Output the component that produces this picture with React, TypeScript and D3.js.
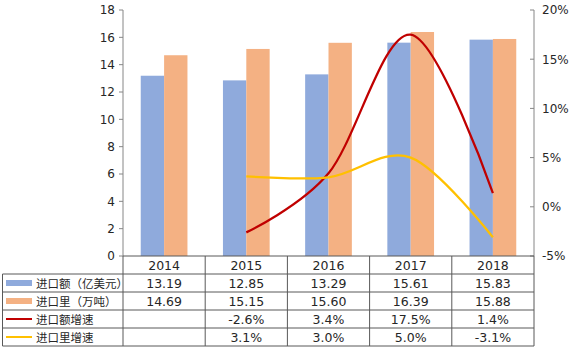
import React, { useEffect, useRef } from 'react';
import * as d3 from 'd3';

const years = ['2014', '2015', '2016', '2017', '2018'];
const importValue = [13.19, 12.85, 13.29, 15.61, 15.83];
const importVolume = [14.69, 15.15, 15.6, 16.39, 15.88];
const valueGrowth: (number | null)[] = [null, -2.6, 3.4, 17.5, 1.4];
const volumeGrowth: (number | null)[] = [null, 3.1, 3.0, 5.0, -3.1];
const leftTicks = [0, 2, 4, 6, 8, 10, 12, 14, 16, 18];
const rightTicks = [-5, 0, 5, 10, 15, 20];
const rowLabels = ['进口额（亿美元）', '进口里（万吨）', '进口额增速', '进口里增速'];

const BLUE = '#8faadc';
const ORANGE = '#f4b183';
const RED = '#c00000';
const YELLOW = '#ffc000';

export default function App() {
  const ref = useRef<SVGSVGElement>(null);

  useEffect(() => {
    const svg = d3.select(ref.current);
    svg.selectAll('*').remove();

    const width = 575;
    const height = 353;
    // 绘图区
    const plot = { left: 123, right: 534, top: 10, bottom: 256 };
    const rowH = 18;
    const tableTop = 274;
    const font = "'DejaVu Sans', Verdana, sans-serif";
    const cjk = "'Noto Sans CJK SC', sans-serif";
    const textColor = '#262626';
    const lineColor = '#595959';
    const axisColor = '#868686';

    svg.attr('width', width).attr('height', height);

    const x = d3.scaleBand<string>().domain(years).range([plot.left, plot.right]);
    const xSub = d3
      .scaleBand<string>()
      .domain(['value', 'volume'])
      .range([0, x.bandwidth()])
      .paddingOuter(0.76);
    const yLeft = d3.scaleLinear().domain([0, 18]).range([plot.bottom, plot.top]);
    const yRight = d3.scaleLinear().domain([-5, 20]).range([plot.bottom, plot.top]);

    // 柱子
    const bars = svg.append('g');
    bars
      .selectAll('rect.v')
      .data(importValue)
      .enter()
      .append('rect')
      .attr('x', (_, i) => x(years[i])! + xSub('value')!)
      .attr('y', (d) => yLeft(d))
      .attr('width', xSub.bandwidth())
      .attr('height', (d) => plot.bottom - yLeft(d))
      .attr('fill', BLUE);
    bars
      .selectAll('rect.o')
      .data(importVolume)
      .enter()
      .append('rect')
      .attr('x', (_, i) => x(years[i])! + xSub('volume')!)
      .attr('y', (d) => yLeft(d))
      .attr('width', xSub.bandwidth())
      .attr('height', (d) => plot.bottom - yLeft(d))
      .attr('fill', ORANGE);

    // 折线
    const cx = (i: number) => x(years[i])! + x.bandwidth() / 2;
    const line = d3
      .line<[number, number | null]>()
      .defined((d) => d[1] !== null)
      .x((d) => cx(d[0]))
      .y((d) => yRight(d[1] as number))
      .curve(d3.curveCardinal.tension(0));
    const series: [(number | null)[], string][] = [
      [valueGrowth, RED],
      [volumeGrowth, YELLOW],
    ];
    series.forEach(([vals, color]) => {
      const pts = vals.map((v, i) => [i, v] as [number, number | null]).filter((d) => d[1] !== null);
      svg
        .append('path')
        .attr('d', line(pts))
        .attr('fill', 'none')
        .attr('stroke', color)
        .attr('stroke-width', 2.25);
    });

    // 左轴
    const axes = svg.append('g');
    axes
      .append('line')
      .attr('x1', plot.left)
      .attr('x2', plot.left)
      .attr('y1', plot.top)
      .attr('y2', plot.bottom)
      .attr('stroke', axisColor);
    leftTicks.forEach((t) => {
      axes
        .append('line')
        .attr('x1', plot.left - 4)
        .attr('x2', plot.left)
        .attr('y1', yLeft(t))
        .attr('y2', yLeft(t))
        .attr('stroke', axisColor);
      axes
        .append('text')
        .attr('x', plot.left - 8)
        .attr('y', yLeft(t))
        .attr('dy', '0.36em')
        .attr('text-anchor', 'end')
        .attr('font-family', font)
        .attr('font-size', 12)
        .attr('fill', textColor)
        .text(t);
    });

    // 右轴
    axes
      .append('line')
      .attr('x1', plot.right)
      .attr('x2', plot.right)
      .attr('y1', plot.top)
      .attr('y2', plot.bottom)
      .attr('stroke', axisColor);
    rightTicks.forEach((t) => {
      axes
        .append('line')
        .attr('x1', plot.right - 4)
        .attr('x2', plot.right)
        .attr('y1', yRight(t))
        .attr('y2', yRight(t))
        .attr('stroke', axisColor);
      axes
        .append('text')
        .attr('x', plot.right + 8)
        .attr('y', yRight(t))
        .attr('dy', '0.36em')
        .attr('font-family', font)
        .attr('font-size', 12)
        .attr('fill', textColor)
        .text(t + '%');
    });

    // 数据表
    const table = svg.append('g');
    const tableBottom = tableTop + rowH * 4;
    const hline = (y: number, x1: number, x2: number) =>
      table
        .append('line')
        .attr('x1', x1)
        .attr('x2', x2)
        .attr('y1', y)
        .attr('y2', y)
        .attr('stroke', lineColor);
    hline(plot.bottom, plot.left, plot.right);
    for (let r = 0; r <= 4; r++) hline(tableTop + r * rowH, 2.5, plot.right);
    table
      .append('line')
      .attr('x1', 2.5)
      .attr('x2', 2.5)
      .attr('y1', tableTop)
      .attr('y2', tableBottom)
      .attr('stroke', lineColor);
    years.forEach((yr) => {
      table
        .append('line')
        .attr('x1', x(yr)!)
        .attr('x2', x(yr)!)
        .attr('y1', plot.bottom)
        .attr('y2', tableBottom)
        .attr('stroke', lineColor);
    });
    table
      .append('line')
      .attr('x1', plot.right)
      .attr('x2', plot.right)
      .attr('y1', plot.bottom)
      .attr('y2', tableBottom)
      .attr('stroke', lineColor);

    const cellText = (tx: number, ty: number, s: string) =>
      table
        .append('text')
        .attr('x', tx)
        .attr('y', ty)
        .attr('dy', '0.36em')
        .attr('text-anchor', 'middle')
        .attr('font-family', font)
        .attr('font-size', 12.5)
        .attr('fill', textColor)
        .text(s);

    years.forEach((yr, i) => cellText(cx(i), (plot.bottom + tableTop) / 2 + 0.5, yr));

    const rows: string[][] = [
      importValue.map((v) => v.toFixed(2)),
      importVolume.map((v) => v.toFixed(2)),
      valueGrowth.map((v) => (v === null ? '' : v.toFixed(1) + '%')),
      volumeGrowth.map((v) => (v === null ? '' : v.toFixed(1) + '%')),
    ];
    const keyColors = [BLUE, ORANGE, RED, YELLOW];
    rows.forEach((row, r) => {
      const cy = tableTop + r * rowH + rowH / 2;
      row.forEach((s, i) => cellText(cx(i), cy + 0.5, s));
      if (r < 2) {
        table
          .append('rect')
          .attr('x', 6)
          .attr('y', cy - 3)
          .attr('width', 26)
          .attr('height', 6)
          .attr('fill', keyColors[r]);
      } else {
        table
          .append('line')
          .attr('x1', 6)
          .attr('x2', 32)
          .attr('y1', cy)
          .attr('y2', cy)
          .attr('stroke', keyColors[r])
          .attr('stroke-width', 2);
      }
      table
        .append('text')
        .attr('x', 36)
        .attr('y', cy + 0.5)
        .attr('dy', '0.36em')
        .attr('font-family', cjk)
        .attr('font-size', 11.5)
        .attr('fill', textColor)
        .text(rowLabels[r]);
    });
  }, []);

  return (
    <svg
      ref={ref}
      style={{ position: 'absolute', left: 0, top: 0, background: '#fff' }}
    />
  );
}
